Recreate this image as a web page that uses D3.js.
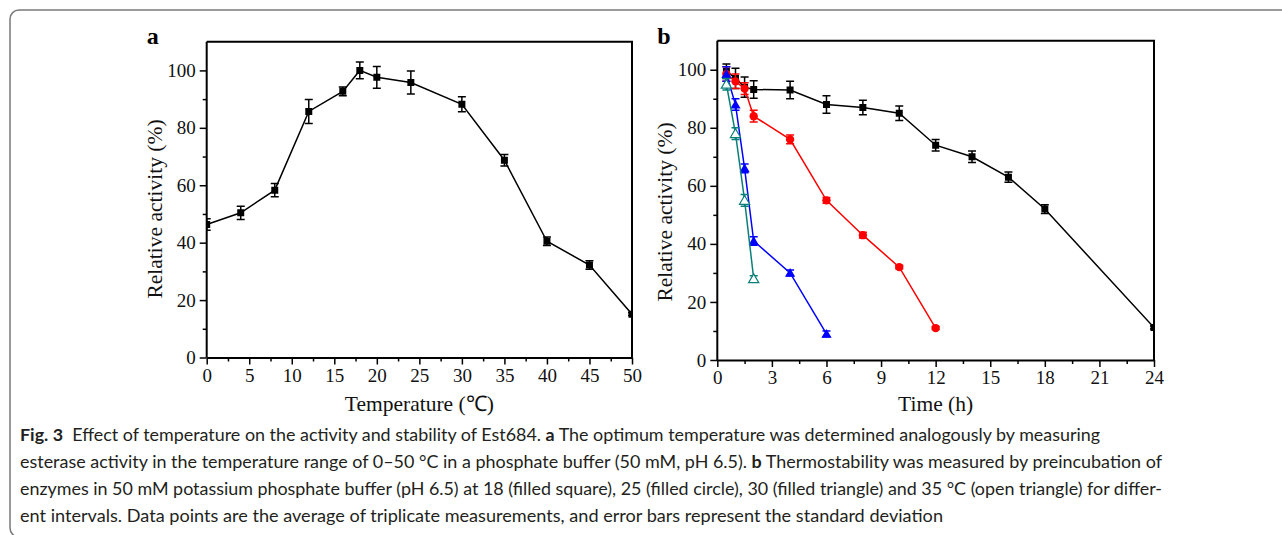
<!DOCTYPE html>
<html>
<head>
<meta charset="utf-8">
<script src="https://cdn.jsdelivr.net/npm/d3@7"></script>
<style>
  body { margin: 0; background: #fff; }
  svg { display: block; }
</style>
</head>
<body>
<div id="fig"></div>
<script>
// panel a: temperature profile
const temps = [0, 4, 8, 12, 16, 18, 20, 24, 30, 35, 40, 45, 50];
const tempAct = [46.3, 50.4, 58.3, 85.7, 92.7, 100, 97.6, 95.8, 88.2, 68.7, 40.5, 32.2, 15.1];
const tempErr = [2, 2.3, 2.3, 4.2, 1.5, 2.9, 3.8, 4, 2.6, 2, 1.5, 1.5, 0.5];

// panel b: thermostability at 18, 25, 30, 35 °C
const time18 = [0.5, 1, 1.5, 2, 4, 6, 8, 10, 12, 14, 16, 18, 24];
const act18 = [99.5, 97, 94, 93.2, 93, 88, 87, 85, 74, 70, 63, 52, 11.2];
const err18 = [2.5, 3.5, 3.5, 3, 3, 3, 2.5, 2.5, 2, 2, 1.8, 1.5, 0.5];

const time25 = [0.5, 1, 1.5, 2, 4, 6, 8, 10, 12];
const act25 = [98.5, 96, 93.5, 84, 76, 55, 43, 32, 11];
const err25 = [2.5, 2.5, 2, 2, 1.5, 1, 1, 0.6, 0.5];

const time30 = [0.5, 1, 1.5, 2, 4, 6];
const act30 = [98.5, 88, 66, 41, 30, 9];
const err30 = [2.5, 2, 1.5, 1.5, 1, 1];

const time35 = [0.5, 1, 1.5, 2];
const act35 = [95, 78, 55, 28];
const err35 = [2, 2, 2, 1];

const yTicks = [0, 20, 40, 60, 80, 100];
const xTicksA = [0, 5, 10, 15, 20, 25, 30, 35, 40, 45, 50];
const xTicksB = [0, 3, 6, 9, 12, 15, 18, 21, 24];

const captionLines = [
  [["Fig. 3", true], ["  Effect of temperature on the activity and stability of Est684. ", false], ["a", true], [" The optimum temperature was determined analogously by measuring", false]],
  [["esterase activity in the temperature range of 0–50 °C in a phosphate buffer (50 mM, pH 6.5). ", false], ["b", true], [" Thermostability was measured by preincubation of", false]],
  [["enzymes in 50 mM potassium phosphate buffer (pH 6.5) at 18 (filled square), 25 (filled circle), 30 (filled triangle) and 35 °C (open triangle) for differ-", false]],
  [["ent intervals. Data points are the average of triplicate measurements, and error bars represent the standard deviation", false]]
];
const captionEnds = [1100, 1162, 1162, 943];

const width = 1282, height = 535;
const serif = "'Liberation Serif', 'Times New Roman', serif";

const svg = d3.select("#fig").append("svg")
  .attr("width", width)
  .attr("height", height);

// figure frame (rounded box, only top-left visible)
svg.append("rect")
  .attr("x", 10).attr("y", 10)
  .attr("width", 1300).attr("height", 527)
  .attr("rx", 9)
  .attr("fill", "none")
  .attr("stroke", "#7a7a7a")
  .attr("stroke-width", 1.5);

function panel(cfg) {
  const x = d3.scaleLinear().domain(cfg.xDomain).range([cfg.left, cfg.right]);
  const y = d3.scaleLinear().domain([0, 110]).range([cfg.bottom, cfg.top]);
  const g = svg.append("g");

  const clipId = "clip-" + cfg.name;
  svg.append("clipPath").attr("id", clipId)
    .append("rect")
      .attr("x", cfg.left).attr("y", cfg.top)
      .attr("width", cfg.right - cfg.left).attr("height", cfg.bottom - cfg.top);

  // minor ticks
  g.append("g")
    .attr("transform", `translate(0,${cfg.bottom})`)
    .call(d3.axisBottom(x).tickValues(cfg.xMinor).tickSize(4).tickFormat(""))
    .call(a => a.select(".domain").remove())
    .call(a => a.selectAll("line").attr("stroke-width", 1.5));
  g.append("g")
    .attr("transform", `translate(${cfg.left},0)`)
    .call(d3.axisLeft(y).tickValues([10, 30, 50, 70, 90]).tickSize(4).tickFormat(""))
    .call(a => a.select(".domain").remove())
    .call(a => a.selectAll("line").attr("stroke-width", 1.5));

  // major axes
  g.append("g")
    .attr("transform", `translate(0,${cfg.bottom})`)
    .call(d3.axisBottom(x).tickValues(cfg.xTicks).tickSize(7).tickPadding(4).tickSizeOuter(0))
    .call(a => a.select(".domain").attr("stroke-width", 2))
    .call(a => a.selectAll("line").attr("stroke-width", 1.5))
    .call(a => a.selectAll("text").attr("font-family", serif).attr("font-size", 19).attr("fill", "#111"));
  g.append("g")
    .attr("transform", `translate(${cfg.left},0)`)
    .call(d3.axisLeft(y).tickValues(yTicks).tickSize(7).tickPadding(4).tickSizeOuter(0))
    .call(a => a.select(".domain").attr("stroke-width", 2)
      .attr("d", `M0,${cfg.bottom}V${cfg.top}`))
    .call(a => a.selectAll("line").attr("stroke-width", 1.5))
    .call(a => a.selectAll("text").attr("font-family", serif).attr("font-size", 19).attr("fill", "#111"));

  // top and right frame
  g.append("path")
    .attr("d", `M${cfg.left},${cfg.top}H${cfg.right}V${cfg.bottom}`)
    .attr("fill", "none")
    .attr("stroke", "#000")
    .attr("stroke-width", 2);

  // axis titles and panel letter
  g.append("text")
    .attr("x", (cfg.left + cfg.right) / 2)
    .attr("y", 411)
    .attr("text-anchor", "middle")
    .attr("font-family", serif)
    .attr("font-size", 21.5)
    .attr("fill", "#111")
    .text(cfg.xLabel);
  g.append("text")
    .attr("transform", `translate(${cfg.left - 45},${cfg.yLabelMid}) rotate(-90)`)
    .attr("text-anchor", "middle")
    .attr("font-family", serif)
    .attr("font-size", 21.5)
    .attr("fill", "#111")
    .text("Relative activity (%)");
  g.append("text")
    .attr("x", cfg.left - 60)
    .attr("y", 44)
    .attr("font-family", serif)
    .attr("font-weight", "bold")
    .attr("font-size", 24)
    .text(cfg.letter);

  const plot = g.append("g").attr("clip-path", `url(#${clipId})`);

  cfg.series.forEach(s => {
    const pts = s.xs.map((t, i) => ({x: t, y: s.ys[i], e: s.es[i]}));
    plot.append("path")
      .datum(pts)
      .attr("fill", "none")
      .attr("stroke", s.color)
      .attr("stroke-width", 1.5)
      .attr("d", d3.line().x(d => x(d.x)).y(d => y(d.y)));

    const eb = plot.append("g")
      .attr("stroke", s.color)
      .attr("stroke-width", 1.5)
      .selectAll("g")
      .data(pts)
      .join("g");
    eb.append("line")
      .attr("x1", d => x(d.x)).attr("x2", d => x(d.x))
      .attr("y1", d => y(d.y - d.e)).attr("y2", d => y(d.y + d.e));
    eb.append("line")
      .attr("x1", d => x(d.x) - 4).attr("x2", d => x(d.x) + 4)
      .attr("y1", d => y(d.y + d.e)).attr("y2", d => y(d.y + d.e));
    eb.append("line")
      .attr("x1", d => x(d.x) - 4).attr("x2", d => x(d.x) + 4)
      .attr("y1", d => y(d.y - d.e)).attr("y2", d => y(d.y - d.e));

    plot.append("g")
      .selectAll("path")
      .data(pts)
      .join("path")
        .attr("transform", d => `translate(${x(d.x)},${y(d.y) + (s.shape === d3.symbolTriangle ? 1 : 0)})`)
        .attr("d", d3.symbol().type(s.shape).size(s.size))
        .attr("fill", s.open ? "#fff" : s.color)
        .attr("stroke", s.open ? s.color : "none")
        .attr("stroke-width", 1.2);
  });
}

panel({
  name: "a", letter: "a",
  left: 206.7, right: 632, top: 41.7, bottom: 357.5,
  xDomain: [0, 50], xTicks: xTicksA,
  xMinor: d3.range(2.5, 50, 5),
  xLabel: "Temperature (℃)", yLabelMid: 209,
  series: [
    {xs: temps, ys: tempAct, es: tempErr, color: "#000", shape: d3.symbolSquare, size: 49}
  ]
});

panel({
  name: "b", letter: "b",
  left: 717.3, right: 1154, top: 40.7, bottom: 360,
  xDomain: [0, 24], xTicks: xTicksB,
  xMinor: d3.range(1.5, 24, 3),
  xLabel: "Time (h)", yLabelMid: 212,
  series: [
    {xs: time18, ys: act18, es: err18, color: "#000", shape: d3.symbolSquare, size: 49},
    {xs: time25, ys: act25, es: err25, color: "#ff0000", shape: d3.symbolCircle, size: 55},
    {xs: time30, ys: act30, es: err30, color: "#0000ff", shape: d3.symbolTriangle, size: 45},
    {xs: time35, ys: act35, es: err35, color: "#0a7f7a", shape: d3.symbolTriangle, size: 45, open: true}
  ]
});

// caption
const cap = svg.append("g")
  .attr("font-family", "Lato, 'Noto Sans', sans-serif")
  .attr("font-size", 17.5)
  .attr("fill", "#231f20");

captionLines.forEach((line, i) => {
  const t = cap.append("text")
    .attr("x", 20)
    .attr("y", 441 + i * 27)
    .attr("textLength", captionEnds[i] - 20)
    .attr("lengthAdjust", "spacingAndGlyphs")
    .style("white-space", "pre");
  line.forEach(([txt, bold]) => {
    t.append("tspan")
      .attr("font-weight", bold ? "bold" : null)
      .text(txt);
  });
});
</script>
</body>
</html>
